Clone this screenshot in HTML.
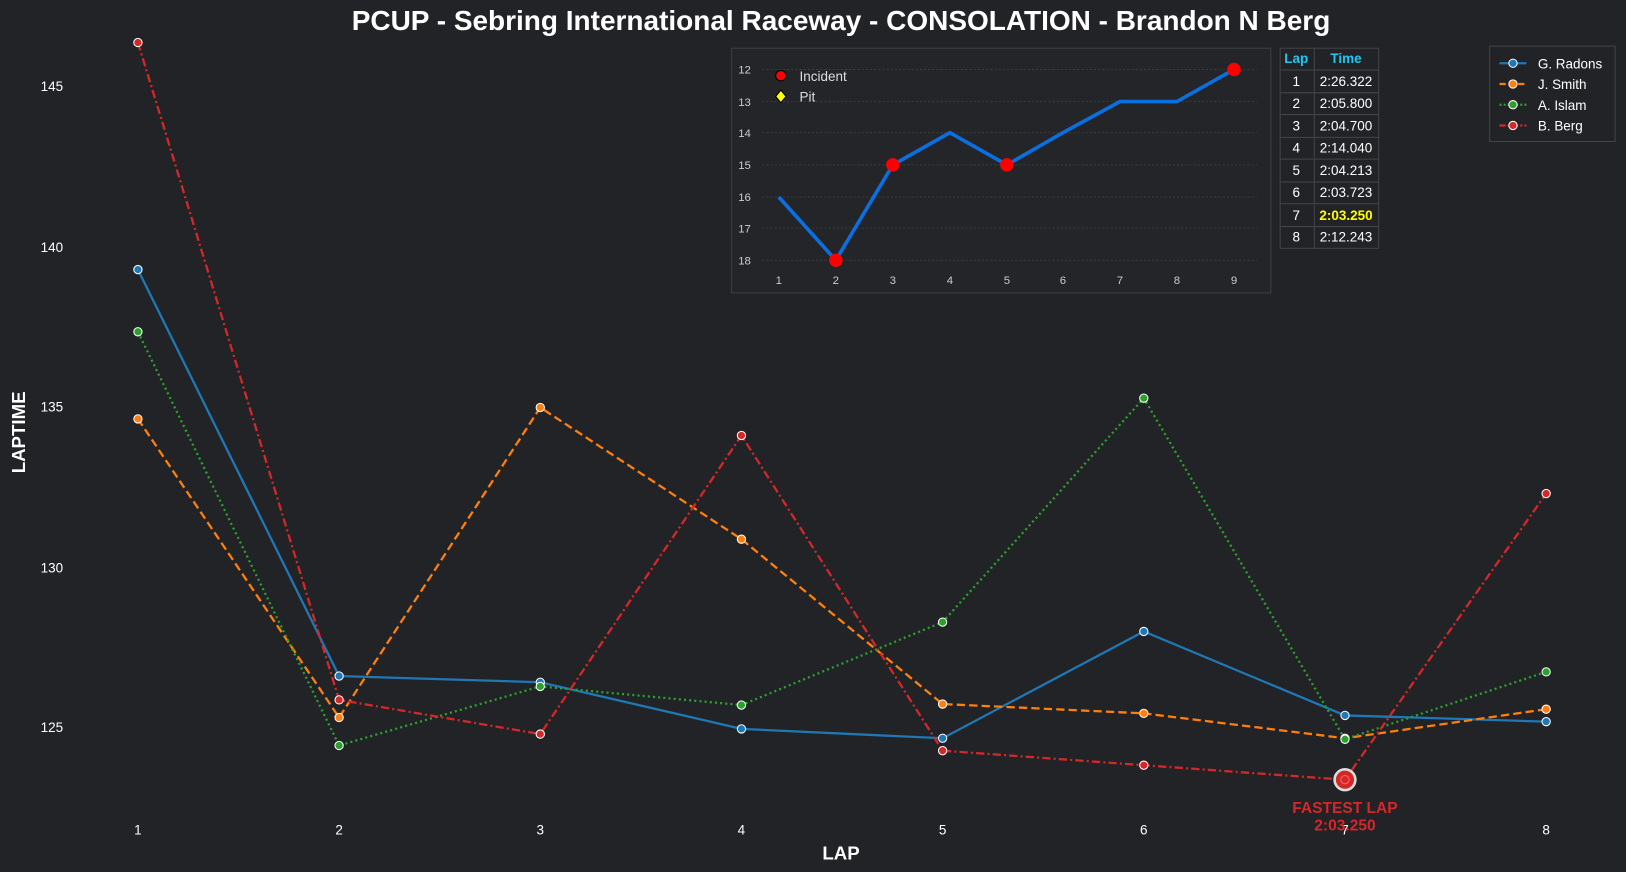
<!DOCTYPE html>
<html><head><meta charset="utf-8"><style>
html,body{margin:0;padding:0;background:#212327;}
svg{display:block;font-family:"Liberation Sans",Arial,sans-serif;}
</style></head><body>
<svg width="1626" height="872" viewBox="0 0 1568 841" preserveAspectRatio="none">
<rect width="1568" height="841" fill="#212327"/>
<text x="811" y="29" text-anchor="middle" font-size="27" font-weight="bold" fill="#fff">PCUP - Sebring International Raceway - CONSOLATION - Brandon N Berg</text>
<g font-size="13" fill="#fff" text-anchor="middle">
<text x="50" y="88">145</text><text x="50" y="243">140</text><text x="50" y="397">135</text><text x="50" y="552">130</text><text x="50" y="706">125</text>
<text x="133" y="805">1</text><text x="327" y="805">2</text><text x="521" y="805">3</text><text x="715" y="805">4</text><text x="909" y="805">5</text><text x="1103" y="805">6</text><text x="1297" y="805">7</text><text x="1491" y="805">8</text>
</g>
<text x="811" y="829" text-anchor="middle" font-size="18" font-weight="bold" fill="#fff">LAP</text>
<text transform="translate(24,417) rotate(-90)" text-anchor="middle" font-size="18" font-weight="bold" fill="#fff">LAPTIME</text>
<g fill="none" stroke-width="2.2">
<polyline stroke="#1f77b4" points="133,260 327,652 521,658 715,703 909,712 1103,609 1297,690 1491,696"/>
<polyline stroke="#ff7f0e" stroke-dasharray="8,4" points="133,404 327,692 521,393 715,520 909,679 1103,688 1297,712 1491,684"/>
<polyline stroke="#2ca02c" stroke-dasharray="2,3" points="133,320 327,719 521,662 715,680 909,600 1103,384 1297,713 1491,648"/>
<polyline stroke="#d62728" stroke-dasharray="8,3,2,3" points="133,41 327,675 521,708 715,420 909,724 1103,738 1297,752 1491,476"/>
</g>
<g stroke="#fff" stroke-width="1">
<g fill="#1f77b4"><circle cx="133" cy="260" r="4"/><circle cx="327" cy="652" r="4"/><circle cx="521" cy="658" r="4"/><circle cx="715" cy="703" r="4"/><circle cx="909" cy="712" r="4"/><circle cx="1103" cy="609" r="4"/><circle cx="1297" cy="690" r="4"/><circle cx="1491" cy="696" r="4"/></g>
<g fill="#ff7f0e"><circle cx="133" cy="404" r="4"/><circle cx="327" cy="692" r="4"/><circle cx="521" cy="393" r="4"/><circle cx="715" cy="520" r="4"/><circle cx="909" cy="679" r="4"/><circle cx="1103" cy="688" r="4"/><circle cx="1297" cy="712" r="4"/><circle cx="1491" cy="684" r="4"/></g>
<g fill="#2ca02c"><circle cx="133" cy="320" r="4"/><circle cx="327" cy="719" r="4"/><circle cx="521" cy="662" r="4"/><circle cx="715" cy="680" r="4"/><circle cx="909" cy="600" r="4"/><circle cx="1103" cy="384" r="4"/><circle cx="1297" cy="713" r="4"/><circle cx="1491" cy="648" r="4"/></g>
<g fill="#d62728"><circle cx="133" cy="41" r="4"/><circle cx="327" cy="675" r="4"/><circle cx="521" cy="708" r="4"/><circle cx="715" cy="420" r="4"/><circle cx="909" cy="724" r="4"/><circle cx="1103" cy="738" r="4"/><circle cx="1491" cy="476" r="4"/></g>
</g>
<circle cx="1297" cy="752" r="10" fill="#d62728" stroke="#ddd" stroke-width="2.5"/>
<circle cx="1297" cy="752" r="4" fill="none" stroke="#f66" stroke-width="1"/>
<text x="1297" y="784" text-anchor="middle" font-size="15" font-weight="bold" fill="#d62728">FASTEST LAP</text>
<text x="1297" y="801" text-anchor="middle" font-size="15" font-weight="bold" fill="#d62728">2:03.250</text>
<rect x="705.5" y="46.5" width="520" height="236" fill="#232529" stroke="#3c3e42"/>
<g stroke="#3a3c40" stroke-dasharray="2,2" stroke-width="1">
<line x1="735" x2="1212" y1="67" y2="67"/><line x1="735" x2="1212" y1="98" y2="98"/><line x1="735" x2="1212" y1="128" y2="128"/><line x1="735" x2="1212" y1="159" y2="159"/><line x1="735" x2="1212" y1="190" y2="190"/><line x1="735" x2="1212" y1="220" y2="220"/><line x1="735" x2="1212" y1="251" y2="251"/>
</g>
<g font-size="11" fill="#ccc" text-anchor="middle">
<text x="718" y="71">12</text><text x="718" y="102">13</text><text x="718" y="132">14</text><text x="718" y="163">15</text><text x="718" y="194">16</text><text x="718" y="224">17</text><text x="718" y="255">18</text>
<text x="751" y="274">1</text><text x="806" y="274">2</text><text x="861" y="274">3</text><text x="916" y="274">4</text><text x="971" y="274">5</text><text x="1025" y="274">6</text><text x="1080" y="274">7</text><text x="1135" y="274">8</text><text x="1190" y="274">9</text>
</g>
<polyline fill="none" stroke="#0a6fe0" stroke-width="3.5" points="751,190 806,251 861,159 916,128 971,159 1025,128 1080,98 1135,98 1190,67"/>
<g fill="#ff0000"><circle cx="806" cy="251" r="6.5"/><circle cx="861" cy="159" r="6.5"/><circle cx="971" cy="159" r="6.5"/><circle cx="1190" cy="67" r="6.5"/></g>
<circle cx="753" cy="73" r="5" fill="#f00" stroke="#000"/>
<path d="M753,87 L758,93 L753,99 L748,93Z" fill="#ff0" stroke="#000"/>
<text x="771" y="78" font-size="13" fill="#ddd">Incident</text>
<text x="771" y="98" font-size="13" fill="#ddd">Pit</text>
<g stroke="#444" fill="#212327">
<rect x="1234.5" y="46.5" width="95" height="193"/>
</g>
<g stroke="#444">
<line x1="1267.5" x2="1267.5" y1="46" y2="240"/>
<line x1="1234" x2="1330" y1="67.5" y2="67.5"/><line x1="1234" x2="1330" y1="89.5" y2="89.5"/><line x1="1234" x2="1330" y1="110.5" y2="110.5"/><line x1="1234" x2="1330" y1="132.5" y2="132.5"/><line x1="1234" x2="1330" y1="153.5" y2="153.5"/><line x1="1234" x2="1330" y1="175.5" y2="175.5"/><line x1="1234" x2="1330" y1="196.5" y2="196.5"/><line x1="1234" x2="1330" y1="218.5" y2="218.5"/>
</g>
<g font-size="13" text-anchor="middle" fill="#fff">
<text x="1250" y="61" fill="#1ec8f0" font-weight="bold">Lap</text><text x="1298" y="61" fill="#1ec8f0" font-weight="bold">Time</text>
<text x="1250" y="83">1</text><text x="1298" y="83">2:26.322</text>
<text x="1250" y="104">2</text><text x="1298" y="104">2:05.800</text>
<text x="1250" y="126">3</text><text x="1298" y="126">2:04.700</text>
<text x="1250" y="147">4</text><text x="1298" y="147">2:14.040</text>
<text x="1250" y="169">5</text><text x="1298" y="169">2:04.213</text>
<text x="1250" y="190">6</text><text x="1298" y="190">2:03.723</text>
<text x="1250" y="212">7</text><text x="1298" y="212" fill="#ffff00" font-weight="bold">2:03.250</text>
<text x="1250" y="233">8</text><text x="1298" y="233">2:12.243</text>
</g>
<rect x="1436.5" y="44.5" width="121" height="92" fill="#212327" stroke="#444"/>
<g stroke-width="2.2">
<line x1="1446" x2="1472" y1="61" y2="61" stroke="#1f77b4"/>
<line x1="1446" x2="1472" y1="81" y2="81" stroke="#ff7f0e" stroke-dasharray="6,3"/>
<line x1="1446" x2="1472" y1="101" y2="101" stroke="#2ca02c" stroke-dasharray="2,2"/>
<line x1="1446" x2="1472" y1="121" y2="121" stroke="#d62728" stroke-dasharray="6,2,2,2"/>
</g>
<g stroke="#fff"><circle cx="1459" cy="61" r="4" fill="#1f77b4"/><circle cx="1459" cy="81" r="4" fill="#ff7f0e"/><circle cx="1459" cy="101" r="4" fill="#2ca02c"/><circle cx="1459" cy="121" r="4" fill="#d62728"/></g>
<g font-size="13" fill="#fff"><text x="1483" y="66">G. Radons</text><text x="1483" y="86">J. Smith</text><text x="1483" y="106">A. Islam</text><text x="1483" y="126">B. Berg</text></g>
</svg>
</body></html>
